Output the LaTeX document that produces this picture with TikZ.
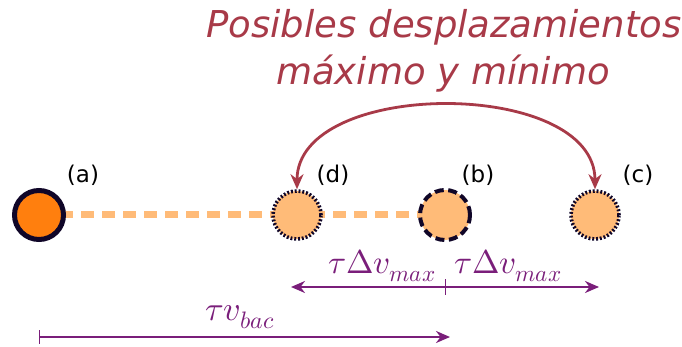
\documentclass[tikz,border=0pt]{standalone}
\usepackage{fontspec}
\usepackage{unicode-math}
\setmathfont{Latin Modern Math}
\setmainfont{DejaVu Sans}
\newfontfamily\titlefont{DejaVu Sans}
\usetikzlibrary{arrows.meta}
\definecolor{dark}{HTML}{100628}
\definecolor{orangeA}{HTML}{FF7F0E}
\definecolor{orangeL}{HTML}{FFBB78}
\definecolor{redT}{HTML}{A83A48}
\definecolor{purp}{HTML}{7A1E7A}
\begin{document}
\begin{tikzpicture}[x=1pt,y=-1pt,
  ball/.style={circle,minimum size=48pt,inner sep=0pt,fill=orangeL,draw=dark,line width=3pt},
  dotball/.style={ball,line width=3.6pt,dash pattern=on 1.9pt off 1.9pt},
  lbl/.style={font=\fontsize{23}{23}\selectfont,inner sep=0pt},
  meas/.style={draw=purp,line width=2.2pt,-{Stealth[length=14pt,width=12pt]}},
  mlbl/.style={text=purp,font=\fontsize{33}{33}\selectfont,inner sep=0pt},
  ttl/.style={text=redT,font=\titlefont\itshape\fontsize{37}{37}\selectfont,inner sep=0pt}]
\useasboundingbox (0,0) rectangle (682,347);
% dashed path behind
\coordinate (pa) at (39,215);
\coordinate (pb) at (445,215);
\draw[orangeL,line width=7pt,dash pattern=on 13pt off 8pt] (pa) -- (pb);
% balls
\node[ball,fill=orangeA,line width=5pt,minimum size=49pt] (a) at (39,215) {};
\node[dotball] (d) at (297,215) {};
\node[ball,line width=4pt,minimum size=50pt,dash pattern=on 9pt off 4.5pt] (b) at (445,215) {};
\node[dotball] (c) at (595,215) {};
% labels
\node[lbl] (la) at (83,175) {(a)};
\node[lbl] (ld) at (333,175) {(d)};
\node[lbl] (lb) at (478,175) {(b)};
\node[lbl] (lc) at (638,175) {(c)};
% title
\node[ttl] (t1) at (444,27) {Posibles desplazamientos};
\node[ttl] (t2) at (443,74) {máximo y mínimo};
% curved arrow
\draw[redT,line width=2.8pt,{Stealth[length=15pt,width=13pt]}-{Stealth[length=15pt,width=13pt]}]
  (d.north) .. controls (297,78) and (595,78) .. (c.north);
% measures
\coordinate (m0) at (445,287);
\coordinate (mL) at (291,287);
\coordinate (mR) at (599,287);
\draw[meas] (m0) -- (mL);
\draw[meas] (m0) -- (mR);
\draw[purp,line width=1pt] (445,279) -- (445,295);
\node[mlbl] (l1) at (382,266) {$\tau\Delta v_{max}$};
\node[mlbl] (l2) at (508,266) {$\tau\Delta v_{max}$};
\coordinate (n0) at (39,337);
\coordinate (nR) at (450,337);
\draw[meas] (n0) -- (nR);
\draw[purp,line width=1pt] (39,330) -- (39,344);
\node[mlbl,font=\fontsize{34}{34}\selectfont] (l3) at (240,317) {$\tau v_{bac}$};
\end{tikzpicture}
\end{document}
